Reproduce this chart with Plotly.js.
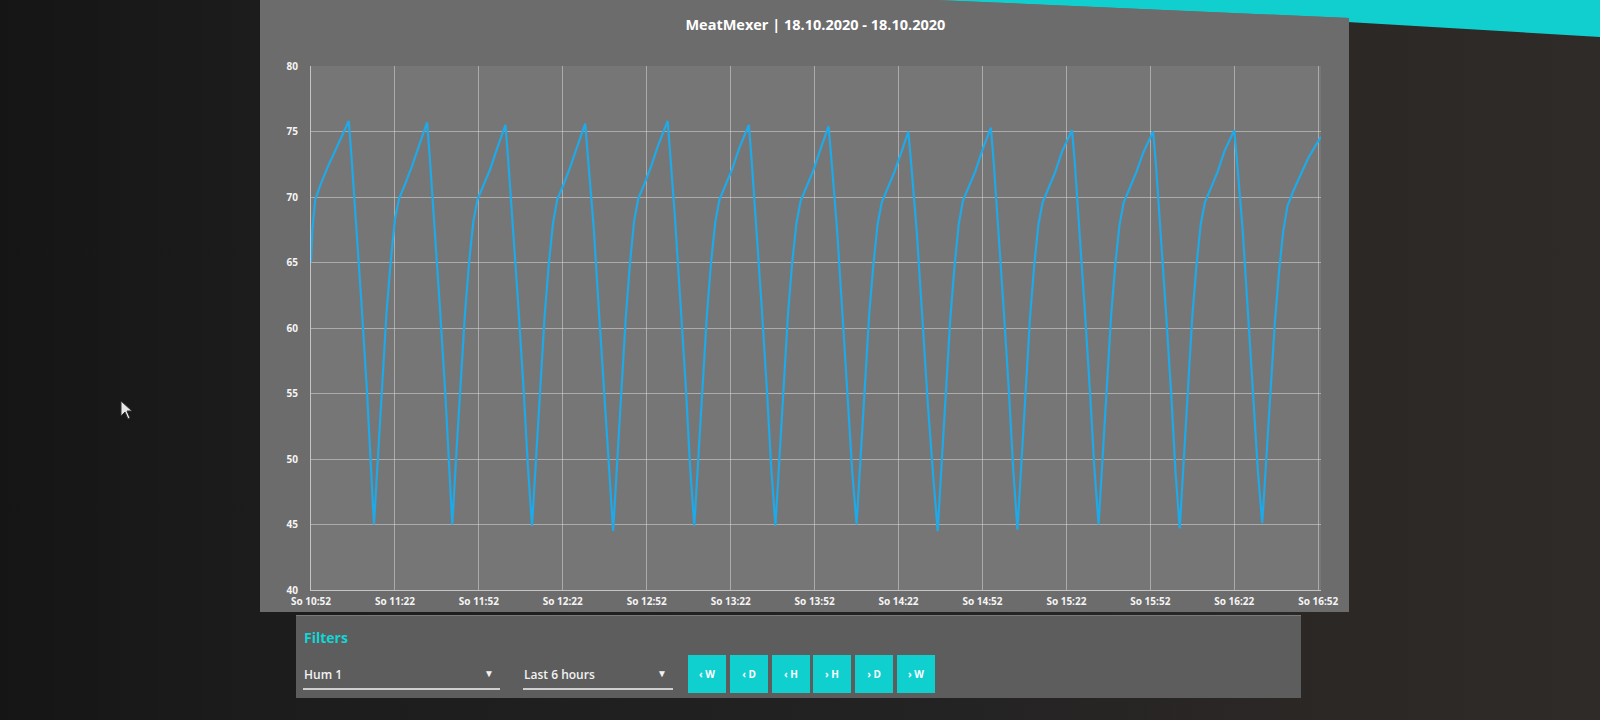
<!DOCTYPE html>
<html>
<head>
<meta charset="utf-8">
<script src="https://cdn.plot.ly/plotly-3.0.1.min.js"></script>
<style>
  html, body { margin:0; padding:0; width:1600px; height:720px; overflow:hidden; }
  body { background: linear-gradient(90deg, #151515 0%, #1c1c1c 16%, #242323 60%, #2c2826 85%, #2f2b28 100%); font-family: "Open Sans", "Noto Sans", sans-serif; position:relative; }
  #teal { position:absolute; left:935px; top:0; width:665px; height:42px; background:#12cfcf;
          clip-path: polygon(0 0, 100% 0, 100% 37px, 62% 22px, 30% 12px, 0 5px); }
  #card { position:absolute; left:260px; top:0; width:1089px; height:612px; background:#6c6c6c;
          clip-path: polygon(0 0, 62% 0, 100% 18px, 100% 100%, 0 100%); }
  #chart { position:absolute; left:0; top:0; width:1089px; height:612px; }
  #filters { position:absolute; left:296px; top:615px; width:1005px; height:82px; background:#5d5d5d; border-top:1px solid #7a7a7a; }
  #ftitle { position:absolute; left:8px; top:12px; color:#12d6d6; font-weight:700; font-size:14px; }
  .dd { position:absolute; top:42px; height:30px; border-bottom:2px solid #cfcfcf; color:#f2f2f2; font-size:12px; font-weight:600; }
  .dd span.lbl { position:absolute; left:1px; top:8px; }
  .dd span.arr { position:absolute; right:6px; top:8px; font-size:10px; }
  .btn { position:absolute; top:39px; width:38px; height:38px; background:#10cfcf; color:#ffffff; font-size:10px; font-weight:700; text-align:center; line-height:38px; }
  #cursor { position:absolute; left:120px; top:400px; }
</style>
</head>
<body>
<div id="teal"></div>
<div id="card"><div id="chart"></div></div>
<div id="filters">
  <div id="ftitle">Filters</div>
  <div class="dd" style="left:7px;width:197px;"><span class="lbl">Hum 1</span><span class="arr">&#9660;</span></div>
  <div class="dd" style="left:227px;width:150px;"><span class="lbl">Last 6 hours</span><span class="arr">&#9660;</span></div>
  <div class="btn" style="left:392px;">&lsaquo; W</div>
  <div class="btn" style="left:434px;">&lsaquo; D</div>
  <div class="btn" style="left:476px;">&lsaquo; H</div>
  <div class="btn" style="left:517px;">&rsaquo; H</div>
  <div class="btn" style="left:559px;">&rsaquo; D</div>
  <div class="btn" style="left:601px;">&rsaquo; W</div>
</div>
<svg id="cursor" width="16" height="22" viewBox="0 0 16 22"><path d="M1 1 L1 16 L5 12 L8 19 L10 18 L7 11 L12 11 Z" fill="#e8e8e8" stroke="#333" stroke-width="1"/></svg>
<script>
const chartTitle = "MeatMexer | 18.10.2020 - 18.10.2020";
const day = "2020-10-18";
const tickTimes = ["10:52","11:22","11:52","12:22","12:52","13:22","13:52","14:22","14:52","15:22","15:52","16:22","16:52"];
const tickPrefix = "So ";
const xStart = "10:52:00";
const xEnd = "16:53:00";

const times = [
 "10:52:00","10:52:30","10:53:30","10:55:30","10:58:00","11:01:30","11:05:30",
 "11:06:30","11:08:00","11:10:00","11:12:00","11:13:30","11:14:30",
 "11:16:00","11:17:30","11:19:00","11:20:30","11:22:00","11:23:30","11:25:30","11:28:00","11:30:30","11:33:30",
 "11:34:30","11:36:00","11:38:00","11:40:00","11:41:30","11:42:30",
 "11:44:00","11:45:30","11:47:00","11:48:30","11:50:00","11:51:30","11:53:30","11:56:00","11:58:30","12:01:30",
 "12:02:30","12:04:00","12:06:00","12:08:00","12:09:30","12:11:00",
 "12:12:30","12:14:00","12:15:30","12:17:00","12:18:30","12:20:00","12:22:00","12:24:30","12:27:00","12:30:00",
 "12:31:00","12:33:00","12:35:00","12:37:00","12:38:30","12:40:00",
 "12:41:30","12:43:00","12:44:30","12:46:00","12:47:30","12:49:00","12:51:00","12:53:30","12:56:00","12:59:30",
 "13:00:30","13:02:00","13:04:00","13:06:00","13:07:30","13:09:00",
 "13:10:30","13:12:00","13:13:30","13:15:00","13:16:30","13:18:00","13:20:00","13:22:30","13:25:00","13:28:30",
 "13:29:30","13:31:00","13:33:00","13:35:00","13:36:30","13:38:00",
 "13:39:30","13:41:00","13:42:30","13:44:00","13:45:30","13:47:00","13:49:00","13:51:30","13:54:00","13:57:00",
 "13:58:00","14:00:00","14:02:00","14:04:00","14:05:30","14:07:00",
 "14:08:30","14:10:00","14:11:30","14:13:00","14:14:30","14:16:00","14:18:00","14:20:30","14:23:00","14:25:30",
 "14:26:30","14:28:30","14:30:30","14:32:30","14:34:30","14:36:00",
 "14:37:30","14:39:00","14:40:30","14:42:00","14:43:30","14:45:00","14:47:00","14:49:30","14:52:00","14:55:00",
 "14:56:00","14:57:30","14:59:30","15:01:30","15:03:00","15:04:30",
 "15:06:00","15:07:30","15:09:00","15:10:30","15:12:00","15:13:30","15:15:30","15:18:00","15:20:30","15:24:00",
 "15:25:00","15:26:30","15:28:30","15:30:30","15:32:00","15:33:30",
 "15:35:00","15:36:30","15:38:00","15:39:30","15:41:00","15:42:30","15:44:30","15:47:00","15:49:30","15:53:00",
 "15:54:00","15:55:30","15:57:30","15:59:30","16:01:00","16:02:30",
 "16:04:00","16:05:30","16:07:00","16:08:30","16:10:00","16:11:30","16:13:30","16:16:00","16:18:30","16:22:00",
 "16:23:00","16:25:00","16:27:00","16:29:00","16:30:30","16:32:00",
 "16:33:30","16:35:00","16:36:30","16:38:00","16:39:30","16:41:00","16:43:00","16:45:30","16:48:30","16:51:00","16:53:00"
];

const hum1 = [
 65.0,67.5,69.8,71.0,72.3,73.9,75.8,
 73.0,68.6,62.0,55.2,49.2,45.0,
 50.4,56.0,61.2,65.1,68.3,69.9,70.9,72.3,73.9,75.7,
 72.9,68.4,61.8,55.0,49.0,45.0,
 50.6,56.1,61.0,65.0,68.1,69.8,70.8,72.1,73.7,75.5,
 72.8,68.5,62.0,55.3,49.5,44.9,
 50.2,55.8,60.9,64.9,68.0,69.8,70.8,72.2,73.8,75.6,
 73.0,67.8,61.0,54.2,48.8,44.5,
 50.0,55.6,60.8,64.9,68.2,69.9,70.9,72.3,73.9,75.8,
 73.1,68.7,62.1,55.4,49.4,44.9,
 50.3,55.9,61.0,65.0,68.1,69.8,70.8,72.1,73.7,75.5,
 72.8,68.4,61.9,55.1,49.3,44.9,
 50.4,56.0,61.1,65.0,68.0,69.7,70.7,72.0,73.6,75.4,
 72.9,67.6,60.9,54.0,48.9,45.0,
 50.5,56.0,61.0,64.8,67.9,69.6,70.6,71.9,73.4,75.0,
 72.6,67.4,60.8,54.1,48.4,44.5,
 50.0,55.6,60.7,64.7,67.9,69.7,70.7,72.0,73.6,75.3,
 72.7,68.3,61.7,55.0,49.2,44.6,
 50.1,55.7,60.8,64.8,67.9,69.6,70.6,71.9,73.5,75.1,
 72.6,68.2,61.6,54.9,49.3,45.0,
 50.5,56.0,61.0,64.9,67.9,69.6,70.6,71.9,73.4,75.0,
 72.5,68.1,61.5,54.8,49.0,44.7,
 50.2,55.8,60.9,64.8,67.9,69.6,70.6,71.9,73.5,75.1,
 72.7,67.5,60.8,54.0,48.9,45.1,
 50.3,55.6,60.4,64.3,67.4,69.3,70.4,71.6,73.0,73.9,74.6
];

const yMin = 40, yMax = 80, yStep = 5;

const fullTime = t => day + " " + (t.length === 5 ? t + ":00" : t);

const trace = {
  x: times.map(fullTime),
  y: hum1,
  type: "scatter",
  mode: "lines",
  name: "Hum 1",
  line: { color: "#1ea9e8", width: 2.2 },
  hoverinfo: "x+y"
};

const tickFont = { family: "Open Sans, Noto Sans, sans-serif", size: 10, color: "#f4f4f4", weight: 700 };

const layout = {
  width: 1089, height: 612,
  paper_bgcolor: "#6c6c6c",
  plot_bgcolor: "#777676",
  margin: { l: 51, r: 28, t: 66, b: 22 },
  showlegend: false,
  title: { text: chartTitle, x: 0.51, xanchor: "center", y: 0.96, yanchor: "middle",
           font: { family: "Open Sans, Noto Sans, sans-serif", size: 14.5, color: "#ffffff", weight: 700 } },
  xaxis: {
    type: "date",
    range: [fullTime(xStart), fullTime(xEnd)],
    tickvals: tickTimes.map(fullTime),
    ticktext: tickTimes.map(t => tickPrefix + t),
    tickangle: 0,
    showgrid: true, gridcolor: "rgba(215,215,215,0.55)", gridwidth: 1,
    showline: true, linecolor: "#c4c4c4", linewidth: 1,
    zeroline: false, ticks: "", ticklabelstandoff: 2,
    ticklabeloverflow: "allow",
    tickfont: tickFont, fixedrange: true
  },
  yaxis: {
    range: [yMin, yMax],
    dtick: yStep, tick0: yMin,
    showgrid: true, gridcolor: "rgba(215,215,215,0.55)", gridwidth: 1,
    showline: true, linecolor: "#c4c4c4", linewidth: 1,
    zeroline: false, ticks: "", ticklabelstandoff: 10,
    tickfont: tickFont, fixedrange: true
  }
};

Plotly.newPlot("chart", [trace], layout, { displayModeBar: false, staticPlot: true });
</script>
</body>
</html>
